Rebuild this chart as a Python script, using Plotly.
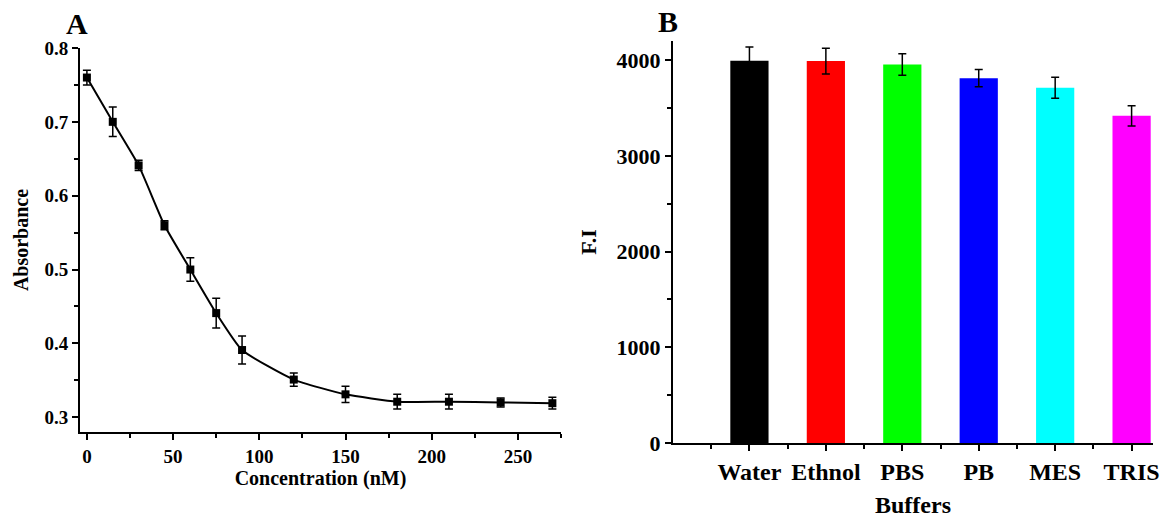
import plotly.graph_objects as go

# Panel A data
conc = [0, 15, 30, 45, 60, 75, 90, 120, 150, 180, 210, 240, 270]
absorb = [0.760, 0.700, 0.641, 0.560, 0.500, 0.441, 0.391, 0.351, 0.331, 0.321, 0.321, 0.320, 0.319]
absorb_err = [0.010, 0.020, 0.007, 0.006, 0.016, 0.020, 0.019, 0.009, 0.011, 0.010, 0.010, 0.006, 0.008]

# Panel B data
buffers = ["Water", "Ethnol", "PBS", "PB", "MES", "TRIS"]
fi = [3993, 3990, 3955, 3812, 3711, 3418]
fi_err = [145, 134, 112, 90, 110, 105]
bar_colors = ["#000000", "#ff0000", "#00ff00", "#0000ff", "#00ffff", "#ff00ff"]

W, H = 1160, 518
FONT = "Liberation Serif"

def px_x(p):
    return p / W

def px_y(p):
    return 1 - p / H

def f(size):
    return dict(family=FONT, size=size, color="black", weight="bold")

fig = go.Figure()

fig.add_trace(go.Scatter(
    x=conc, y=absorb, mode="lines+markers",
    line=dict(color="black", width=2, shape="spline", smoothing=0.5),
    marker=dict(symbol="square", size=8, color="black"),
    error_y=dict(type="data", array=absorb_err, color="black", thickness=1.5, width=4),
    xaxis="x", yaxis="y", showlegend=False,
))

xpos = list(range(1, len(buffers) + 1))
fig.add_trace(go.Bar(
    x=xpos, y=fi, width=0.5, marker=dict(color=bar_colors, line=dict(width=0)),
    error_y=dict(type="data", array=fi_err, color="black", thickness=1.5, width=4),
    xaxis="x2", yaxis="y2", showlegend=False,
))

axis_common = dict(
    showline=True, linecolor="black", linewidth=2, showgrid=False, zeroline=False,
    ticks="outside", ticklen=6, tickwidth=1.5, tickcolor="black", automargin=False,
)
minor_common = dict(ticks="outside", ticklen=4, tickwidth=1.5, tickcolor="black")

fig.update_layout(
    width=W, height=H, margin=dict(l=0, r=0, t=0, b=0),
    plot_bgcolor="white", paper_bgcolor="white",
    font=dict(family=FONT, color="black"),
    xaxis=dict(
        axis_common, domain=[px_x(80), px_x(561)], anchor="y",
        range=[-4, 275], tickvals=[0, 50, 100, 150, 200, 250], tickfont=f(19),
        minor=dict(minor_common, tickvals=[25, 75, 125, 175, 225, 275]),
        title=dict(text="Concentration (nM)", font=f(20), standoff=4),
    ),
    yaxis=dict(
        axis_common, domain=[px_y(432), px_y(48)], anchor="x",
        range=[0.28, 0.8], tickvals=[0.3, 0.4, 0.5, 0.6, 0.7, 0.8], tickformat=".1f", tickfont=f(19),
        minor=dict(minor_common, tickvals=[0.35, 0.45, 0.55, 0.65, 0.75]),
        title=dict(text="Absorbance", font=f(20), standoff=10),
    ),
    xaxis2=dict(
        axis_common, domain=[px_x(673), px_x(1153)], anchor="y2",
        range=[0, 6.28], tickvals=xpos, ticktext=buffers, tickfont=f(24),
        minor=dict(minor_common, tickvals=[0.5, 1.5, 2.5, 3.5, 4.5, 5.5]),
        title=dict(text="Buffers", font=f(24), standoff=12),
    ),
    yaxis2=dict(
        axis_common, domain=[px_y(443), px_y(41)], anchor="x2",
        range=[0, 4200], tickvals=[0, 1000, 2000, 3000, 4000], tickfont=f(22),
        minor=dict(minor_common, tickvals=[500, 1500, 2500, 3500]),
        title=dict(text="F.I", font=f(22), standoff=14),
    ),
    annotations=[
        dict(text="A", x=px_x(77), y=px_y(23), xref="paper", yref="paper", showarrow=False,
             xanchor="center", yanchor="middle", font=f(30)),
        dict(text="B", x=px_x(668), y=px_y(21), xref="paper", yref="paper", showarrow=False,
             xanchor="center", yanchor="middle", font=f(30)),
    ],
)

fig.write_html("out.html")
